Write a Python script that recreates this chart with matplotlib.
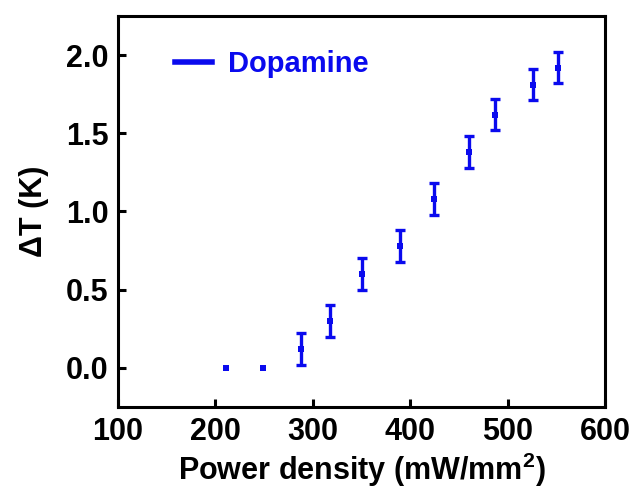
import matplotlib
matplotlib.use("Agg")
import matplotlib.pyplot as plt
from matplotlib.lines import Line2D

plt.rcParams['font.family'] = ['Liberation Sans', 'DejaVu Sans']
plt.rcParams['font.weight'] = 'bold'
plt.rcParams['mathtext.fontset'] = 'custom'
plt.rcParams['mathtext.rm'] = 'Liberation Sans:bold'
plt.rcParams['mathtext.bf'] = 'Liberation Sans:bold'
plt.rcParams['mathtext.default'] = 'bf'

power = [211, 249, 288, 318, 351, 390, 424, 460, 487, 526, 552]
delta_t = [0.0, 0.0, 0.12, 0.30, 0.60, 0.78, 1.08, 1.38, 1.62, 1.81, 1.92]
err = [0.0, 0.0, 0.10, 0.10, 0.10, 0.10, 0.10, 0.10, 0.10, 0.10, 0.10]
x_ticks = [100, 200, 300, 400, 500, 600]
y_ticks = [0.0, 0.5, 1.0, 1.5, 2.0]
label = "Dopamine"

blue = '#0a0aee'

fig = plt.figure(figsize=(6.35, 4.9), dpi=100)
ax = fig.add_axes([118/635, 1-407/490, (605-118)/635, (407-16)/490])

# error bars only where an error is visible
ex = [p for p, e in zip(power, err) if e > 0]
ey = [d for d, e in zip(delta_t, err) if e > 0]
ee = [e for e in err if e > 0]
ax.errorbar(ex, ey, yerr=ee, fmt='none', ecolor=blue,
            elinewidth=2.4, capsize=3.6, capthick=2.4)
ax.plot(power, delta_t, 's', color=blue, markersize=5, markeredgewidth=0)

ax.set_xlim(100, 600)
ax.set_ylim(-0.25, 2.25)
ax.set_xticks(x_ticks)
ax.set_yticks(y_ticks)
ax.set_yticklabels([f"{v:.1f}" for v in y_ticks])

for s in ax.spines.values():
    s.set_linewidth(2.2)
ax.tick_params(direction='in', length=6, width=2.2, labelsize=22, pad=7)

ax.set_xlabel(r"Power density (mW/mm$^{2}$)", fontsize=22, fontweight='bold', labelpad=3)
ax.set_ylabel("ΔT (K)", fontsize=22, fontweight='bold', labelpad=12)

handle = Line2D([], [], color=blue, lw=4, label=label)
leg = ax.legend(handles=[handle], loc='center left', bbox_to_anchor=(0.117, 0.877),
                frameon=False, fontsize=21, handlelength=1.27, handletextpad=0.55,
                borderpad=0, borderaxespad=0)
for t in leg.get_texts():
    t.set_color(blue)
    t.set_fontweight('bold')

fig.savefig("out.png", dpi=100)
